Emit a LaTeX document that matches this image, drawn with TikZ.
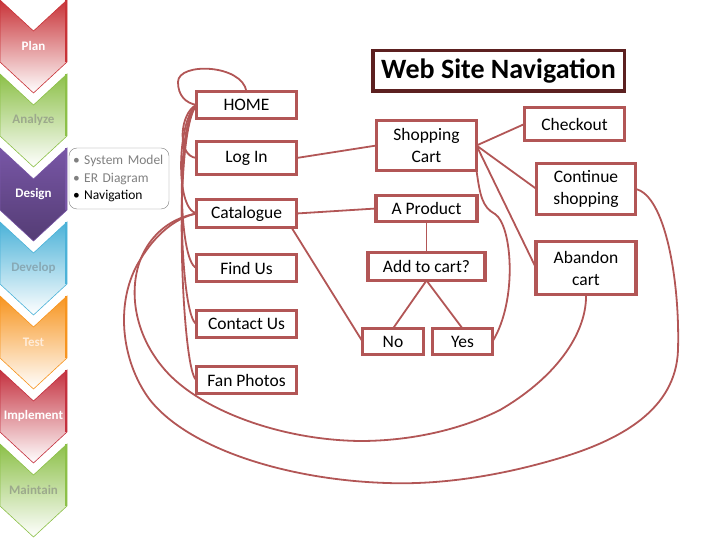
\documentclass[tikz,border=0pt]{standalone}
\usepackage{fontspec}
\setmainfont{Carlito}
\usetikzlibrary{positioning}
\definecolor{navred}{RGB}{178,86,86}
\definecolor{titlered}{RGB}{92,32,32}
\definecolor{planred}{RGB}{200,50,55}
\definecolor{analyzegreen}{RGB}{140,192,72}
\definecolor{designpurple}{RGB}{120,86,166}
\definecolor{developblue}{RGB}{75,178,216}
\definecolor{testorange}{RGB}{247,148,30}
\definecolor{implementred}{RGB}{196,48,62}
\definecolor{notegray}{RGB}{128,128,128}
\colorlet{designdark}{designpurple!70!black}

\begin{document}
\begin{tikzpicture}[x=1pt, y=-1pt, every node/.style={font=\fontsize{17.5}{22}\selectfont},
  navbox/.style={draw=navred, line width=3.2pt, fill=white, rectangle, minimum width=100pt, inner sep=2pt, outer sep=0pt, align=center},
  link/.style={draw=navred, line width=1.8pt},
  stage/.style={font=\fontsize{13}{15}\selectfont\bfseries}]
\useasboundingbox (0,0) rectangle (720,540);

\node[draw=notegray, fill=white, rounded corners=8pt, minimum height=61pt, text width=92pt, inner sep=4pt, align=left, font=\fontsize{13.5}{17.5}\selectfont] (designnote) at (119,178.5) {\textcolor{notegray}{• System Model}\\ \textcolor{notegray}{• ER Diagram}\\ • Navigation};

\foreach \lbl/\col/\bot/\txt [count=\i from 0] in {Plan/planred/white/white, Analyze/analyzegreen/white/gray!70!analyzegreen!80!white, Design/designpurple/designdark/white, Develop/developblue/white/gray!60!developblue!80!white, Test/testorange/white/white!85!orange, Implement/implementred/white/white, Maintain/analyzegreen/white/gray!70!analyzegreen!80!white}
{
  \shadedraw[top color=\col, middle color=\col!40!\bot, bottom color=\bot, draw=\col, line width=0.6pt]
    (0,74*\i) -- (33.5,74*\i+31) -- (67,74*\i) -- (67,74*\i+62) -- (33.5,74*\i+93) -- (0,74*\i+62) -- cycle;
  \draw[\col, line width=1.2pt] (66,74*\i) -- (66,74*\i+62);
  \node[stage, text=\txt] (stage\i) at (33.5,74*\i+46) {\lbl};
}

\node[draw=titlered, line width=3.5pt, minimum width=251.5pt, minimum height=40.5pt, font=\fontsize{28}{32}\selectfont\bfseries] (title) at (498.5,71) {Web Site Navigation};

\node[navbox, minimum height=27pt] (home) at (246.5,105) {HOME};
\node[navbox, minimum height=33pt, below=23pt of home] (login) {Log In};
\node[navbox, minimum height=28pt, below=25pt of login] (catalogue) {Catalogue};
\node[navbox, minimum height=27pt, below=27pt of catalogue] (findus) {Find Us};
\node[navbox, minimum height=27pt, below=29pt of findus] (contact) {Contact Us};
\node[navbox, minimum height=27pt, below=29pt of contact] (fanphotos) {Fan Photos};

\node[navbox, minimum height=50pt] (cart) at (426.5,145.5) {Shopping\\Cart};
\node[navbox, minimum width=101pt, minimum height=26pt, below=25pt of cart] (product) {A Product};
\node[navbox, minimum width=117pt, minimum height=28pt, below=31pt of product] (addcart) {Add to cart?};
\node[navbox, minimum width=61pt, minimum height=26pt] (no) at (393,341.5) {No};
\node[navbox, minimum width=60pt, minimum height=26pt, right=9pt of no] (yes) {Yes};

\node[navbox, minimum height=33pt] (checkout) at (574.5,124) {Checkout};
\node[navbox, minimum width=99pt, minimum height=51pt] (contshop) at (586,189) {Continue\\shopping};
\node[navbox, minimum height=53pt, below=27pt of contshop] (abandon) {Abandon\\cart};

\draw[link] (home.north) .. controls (242,64) and (178,62) .. (178,82) .. controls (178,96) and (186,103) .. (home.west);
\draw[link] (home.west) .. controls (180,112) and (176,156) .. (login.west);
\draw[link] (home.west) .. controls (178,118) and (174,208) .. (catalogue.west);
\draw[link] (home.west) .. controls (176,124) and (178,262) .. (findus.west);
\draw[link] (home.west) .. controls (174,130) and (180,318) .. (contact.west);
\draw[link] (home.west) .. controls (172,136) and (182,374) .. (fanphotos.west);

\draw[link] (login.east) -- (cart.west);
\draw[link] (catalogue.east) -- (product.west);
\draw[link] ([xshift=-5pt]catalogue.south east) -- (no.west);
\draw[link] (product.south) -- (addcart.north);
\draw[link] (addcart.south) -- (no.north);
\draw[link] (addcart.south) -- (yes.north);
\draw[link] (cart.east) -- (checkout.west);
\draw[link] (cart.east) -- (contshop.west);
\draw[link] (cart.east) -- (abandon.west);
\draw[link] (yes.east) .. controls (518,300) and (512,225) .. (495,214) .. controls (482,207) and (480,195) .. (cart.south east);

\draw[link] (contshop.east) .. controls (665,195) and (680,280) .. (678,350) .. controls (676,410) and (620,440) .. (560,458) .. controls (500,476) and (440,485) .. (387,483) .. controls (290,480) and (190,450) .. (150,400) .. controls (120,360) and (115,300) .. (140,260) .. controls (155,235) and (175,218) .. (catalogue.west);
\draw[link] (abandon.south) .. controls (587,330) and (560,375) .. (500,410) .. controls (460,430) and (410,441) .. (360,441) .. controls (280,440) and (200,410) .. (165,370) .. controls (130,330) and (128,280) .. (145,250) .. controls (155,232) and (172,218) .. (catalogue.west);
\end{tikzpicture}
\end{document}
